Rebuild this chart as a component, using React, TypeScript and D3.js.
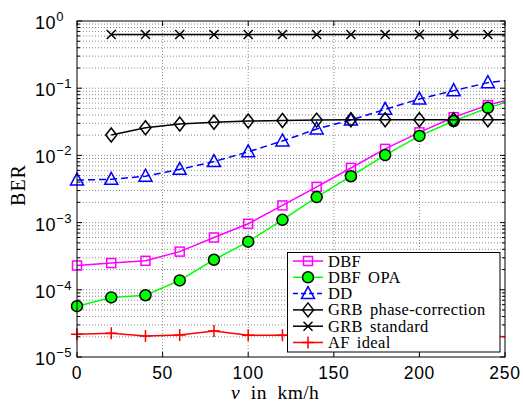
import React from "react";
import * as d3 from "d3";

const speeds = [0, 20, 40, 60, 80, 100, 120, 140, 160, 180, 200, 220, 240, 250];
const dbf = [2.3e-4, 2.5e-4, 2.7e-4, 3.7e-4, 6.0e-4, 9.6e-4, 1.8e-3, 3.4e-3, 6.5e-3, 1.25e-2, 2.2e-2, 3.7e-2, 5.6e-2, 6.5e-2];
const dbfOpa = [5.7e-5, 7.7e-5, 8.3e-5, 1.38e-4, 2.8e-4, 5.2e-4, 1.1e-3, 2.4e-3, 4.9e-3, 1.01e-2, 1.95e-2, 3.25e-2, 5.1e-2, 6.1e-2];
const dd = [4.3e-3, 4.4e-3, 4.9e-3, 6.2e-3, 8.1e-3, 1.13e-2, 1.64e-2, 2.47e-2, 3.36e-2, 4.85e-2, 6.9e-2, 9.2e-2, 1.21e-1, 1.29e-1];
const grbPhase = [NaN, 2.01e-2, 2.58e-2, 2.93e-2, 3.11e-2, 3.25e-2, 3.3e-2, 3.35e-2, 3.4e-2, 3.4e-2, 3.4e-2, 3.4e-2, 3.4e-2, 3.4e-2];
const grbStd = [NaN, 0.63, 0.63, 0.63, 0.63, 0.63, 0.63, 0.63, 0.63, 0.63, 0.63, 0.63, 0.63, 0.63];
const afIdeal = [2.18e-5, 2.25e-5, 2.05e-5, 2.12e-5, 2.44e-5, 2.1e-5, 2.1e-5, 2.1e-5, 2.1e-5, 2.1e-5, 2.1e-5, 2.05e-5, 2.05e-5, 2.0e-5];

const seriesNames = ["DBF", "DBF OPA", "DD", "GRB phase-correction", "GRB standard", "AF ideal"];
const xTicks = [0, 50, 100, 150, 200, 250];
const yExponents = [0, -1, -2, -3, -4, -5];

type Marker = "square" | "circle" | "triangle" | "diamond" | "x" | "plus";
const series: { name: string; values: number[]; color: string; marker: Marker; fill: string; dash?: string }[] = [
  { name: seriesNames[0], values: dbf, color: "#ff00ff", marker: "square", fill: "none" },
  { name: seriesNames[1], values: dbfOpa, color: "#00ff00", marker: "circle", fill: "#00ff00" },
  { name: seriesNames[2], values: dd, color: "#0000ff", marker: "triangle", fill: "none", dash: "7,4" },
  { name: seriesNames[3], values: grbPhase, color: "#000000", marker: "diamond", fill: "none" },
  { name: seriesNames[4], values: grbStd, color: "#000000", marker: "x", fill: "none" },
  { name: seriesNames[5], values: afIdeal, color: "#ff0000", marker: "plus", fill: "none" },
];

const L = 77, R = 505, T = 21, B = 357;

function MarkerShape({ type, cx, cy, color, fill }: { type: Marker; cx: number; cy: number; color: string; fill: string }) {
  const sw = 1.5;
  switch (type) {
    case "square":
      return <rect x={cx - 4.5} y={cy - 4.5} width={9} height={9} fill="none" stroke={color} strokeWidth={sw} />;
    case "circle":
      return <circle cx={cx} cy={cy} r={5.5} fill={fill} stroke="#000" strokeWidth={sw} />;
    case "triangle":
      return <path d={`M${cx},${cy - 7}L${cx + 6.5},${cy + 5}L${cx - 6.5},${cy + 5}Z`} fill="none" stroke={color} strokeWidth={sw} />;
    case "diamond":
      return <path d={`M${cx},${cy - 7}L${cx + 5.5},${cy}L${cx},${cy + 7}L${cx - 5.5},${cy}Z`} fill="none" stroke={color} strokeWidth={sw} />;
    case "x":
      return <path d={`M${cx - 4.5},${cy - 4.5}L${cx + 4.5},${cy + 4.5}M${cx - 4.5},${cy + 4.5}L${cx + 4.5},${cy - 4.5}`} stroke={color} strokeWidth={sw} />;
    case "plus":
      return <path d={`M${cx - 6},${cy}L${cx + 6},${cy}M${cx},${cy - 6}L${cx},${cy + 6}`} stroke={color} strokeWidth={sw} />;
  }
}

export default function App() {
  const x = d3.scaleLinear().domain([0, 250]).range([L, R]);
  const y = d3.scaleLog().domain([1e-5, 1]).range([B, T]);

  const minorY: number[] = [];
  for (let e = -5; e < 0; e++) for (let m = 2; m <= 9; m++) minorY.push(m * Math.pow(10, e));

  const line = d3
    .line<[number, number]>()
    .defined((d) => !isNaN(d[1]))
    .x((d) => x(d[0]))
    .y((d) => y(d[1]));

  const tickFont = "'Liberation Sans', Arial, sans-serif";
  const serif = "'Liberation Serif', 'Times New Roman', serif";

  const legX = 287.5, legY = 252.5, legW = 212.5, legH = 99.5;
  const rowH = 16.3;

  return (
    <svg width={523} height={403} style={{ position: "absolute", left: 0, top: 0, background: "#fff" }}>
      <rect x={0} y={0} width={523} height={403} fill="#fff" />
      {/* grid */}
      <g stroke="#8a8a8a" strokeWidth={1} strokeDasharray="1,2">
        {minorY.map((v, i) => (
          <line key={"my" + i} x1={L} x2={R} y1={y(v)} y2={y(v)} />
        ))}
        {yExponents.slice(1, 5).map((e) => (
          <line key={"My" + e} x1={L} x2={R} y1={y(Math.pow(10, e))} y2={y(Math.pow(10, e))} />
        ))}
        {xTicks.slice(1, 5).map((t) => (
          <line key={"gx" + t} x1={x(t)} x2={x(t)} y1={T} y2={B} />
        ))}
      </g>
      {/* ticks */}
      <g stroke="#000" strokeWidth={1}>
        {xTicks.map((t) => (
          <g key={"tx" + t}>
            <line x1={x(t)} x2={x(t)} y1={B} y2={B - 5} />
            <line x1={x(t)} x2={x(t)} y1={T} y2={T + 5} />
          </g>
        ))}
        {yExponents.map((e) => (
          <g key={"ty" + e}>
            <line x1={L} x2={L + 5} y1={y(Math.pow(10, e))} y2={y(Math.pow(10, e))} />
            <line x1={R} x2={R - 5} y1={y(Math.pow(10, e))} y2={y(Math.pow(10, e))} />
          </g>
        ))}
        {minorY.map((v, i) => (
          <g key={"mt" + i}>
            <line x1={L} x2={L + 3} y1={y(v)} y2={y(v)} />
            <line x1={R} x2={R - 3} y1={y(v)} y2={y(v)} />
          </g>
        ))}
      </g>
      {/* series */}
      {series.map((s) => {
        const pts: [number, number][] = speeds.map((v, i) => [v, s.values[i]]);
        return (
          <g key={s.name}>
            <path d={line(pts) || ""} fill="none" stroke={s.color} strokeWidth={1.5} strokeDasharray={s.dash} />
            {pts
              .filter((p) => !isNaN(p[1]) && p[0] % 20 === 0)
              .map((p, i) => (
                <MarkerShape key={i} type={s.marker} cx={x(p[0])} cy={y(p[1])} color={s.color} fill={s.fill} />
              ))}
          </g>
        );
      })}
      {/* axes box */}
      <rect x={L} y={T} width={R - L} height={B - T} fill="none" stroke="#000" strokeWidth={1} />
      {/* tick labels */}
      {xTicks.map((t) => (
        <text key={"xl" + t} x={x(t)} y={379} textAnchor="middle" fontFamily={tickFont} fontSize={17.5} letterSpacing={0.7}>
          {t}
        </text>
      ))}
      {yExponents.map((e) => (
        <text key={"yl" + e} x={35} y={y(Math.pow(10, e)) + 8} fontFamily={tickFont} fontSize={18} letterSpacing={0.6}>
          10
          <tspan dy={-8} fontSize={13} letterSpacing={0.3}>
            {e === 0 ? "0" : "\u2212" + Math.abs(e)}
          </tspan>
        </text>
      ))}
      {/* axis labels */}
      <text transform={`translate(25,185) rotate(-90)`} textAnchor="middle" fontFamily={serif} fontSize={20} letterSpacing={1}>
        BER
      </text>
      <text x={231} y={399} fontFamily={serif} fontSize={19.5} letterSpacing={0.4} wordSpacing={5.5}>
        <tspan fontStyle="italic">v</tspan> in km/h
      </text>
      {/* legend */}
      <rect x={legX} y={legY} width={legW} height={legH} fill="#fff" stroke="#000" strokeWidth={1} />
      {series.map((s, i) => {
        const cy = 261 + i * rowH;
        return (
          <g key={"lg" + i}>
            <line x1={293} x2={323} y1={cy} y2={cy} stroke={s.color} strokeWidth={1.5} strokeDasharray={s.dash ? "5,3" : undefined} />
            <MarkerShape type={s.marker} cx={308} cy={cy} color={s.color} fill={s.fill} />
            <text x={328} y={cy + 5.5} fontFamily={serif} fontSize={16.5} letterSpacing={0.35} wordSpacing={2.5}>
              {s.name}
            </text>
          </g>
        );
      })}
    </svg>
  );
}
